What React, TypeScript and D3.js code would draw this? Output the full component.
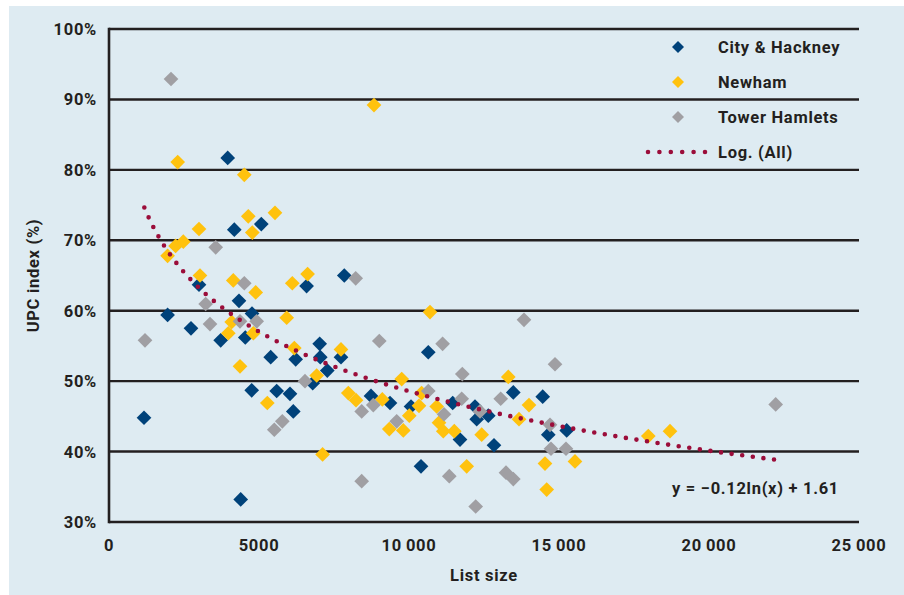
import React, { useEffect, useRef } from 'react';
import * as d3 from 'd3';

// list size / UPC index (%) per borough
const cityListSize = [3957, 5077, 4177, 3000, 6587, 7843, 4333, 1953, 2733, 4767, 3723, 4543, 5390, 6223, 7023, 7043, 7733, 7277, 6790, 4757, 5590, 6033, 6143, 1167, 4390, 10643, 13477, 14457, 8733, 9367, 10067, 11700, 11457, 12200, 12257, 12643, 12833, 14643, 15257, 10400];
const cityUpc = [81.7, 72.3, 71.5, 63.7, 63.5, 65.0, 61.4, 59.4, 57.5, 59.6, 55.8, 56.2, 53.4, 53.1, 55.3, 53.4, 53.4, 51.5, 49.7, 48.7, 48.6, 48.2, 45.7, 44.8, 33.2, 54.1, 48.4, 47.8, 47.9, 46.9, 46.4, 41.7, 46.9, 46.4, 44.6, 45.1, 40.9, 42.4, 43.0, 37.9];

const newhamListSize = [2290, 4510, 4643, 5533, 3000, 4777, 2477, 2220, 1953, 3033, 4143, 4890, 6110, 6620, 4090, 3977, 4810, 5923, 6177, 7733, 6923, 4367, 5277, 7977, 8233, 7120, 10700, 9757, 13310, 14000, 9110, 10420, 10333, 10010, 9343, 9810, 10923, 11000, 11143, 11510, 12423, 13667, 14533, 15533, 14590, 11923, 17977, 18700, 8833];
const newhamUpc = [81.1, 79.3, 73.4, 73.9, 71.6, 71.1, 69.8, 69.2, 67.8, 65.0, 64.3, 62.6, 63.9, 65.2, 58.4, 56.8, 56.8, 59.0, 54.7, 54.5, 50.8, 52.1, 46.9, 48.3, 47.3, 39.6, 59.8, 50.3, 50.6, 46.6, 47.4, 48.3, 46.5, 45.1, 43.2, 43.0, 46.4, 44.1, 42.9, 42.9, 42.4, 44.6, 38.3, 38.6, 34.6, 37.9, 42.2, 42.9, 89.2];

const towerListSize = [2067, 3557, 4510, 8223, 3223, 3367, 1200, 4367, 4923, 6533, 5777, 5510, 9010, 11120, 13833, 14867, 11777, 13057, 8423, 8810, 10643, 9590, 11167, 11757, 12367, 14700, 14733, 15233, 11343, 13233, 13477, 8423, 12223, 22223];
const towerUpc = [92.9, 69.0, 63.9, 64.6, 60.95, 58.1, 55.8, 58.5, 58.5, 50.0, 44.3, 43.1, 55.7, 55.3, 58.7, 52.4, 51.0, 47.5, 45.7, 46.6, 48.6, 44.3, 45.3, 47.5, 45.7, 43.8, 40.4, 40.4, 36.5, 37.0, 36.1, 35.8, 32.2, 46.7];

const seriesNames = ['City & Hackney', 'Newham', 'Tower Hamlets'];
const seriesColors = ['#00427a', '#ffc20e', '#a09fa3'];
const trendName = 'Log. (All)';
const trendColor = '#9b0d3a';

// log trendline: y = a ln(x) + b
const trendA = -0.1219;
const trendB = 1.6085;
const trendFrom = 1178;
const trendTo = 22167;
const equationLabel = 'y = \u22120.12ln(x) + 1.61';

const xTicks = [0, 5000, 10000, 15000, 20000, 25000];
const xTickLabels = ['0', '5000', '10\u2009000', '15\u2009000', '20\u2009000', '25\u2009000'];
const yTicks = [30, 40, 50, 60, 70, 80, 90, 100];
const yTickLabels = ['30%', '40%', '50%', '60%', '70%', '80%', '90%', '100%'];

const W = 904;
const H = 595;
const FONT = 'Roboto, "DejaVu Sans", sans-serif';
const INK = '#231f20';

const label = (sel) => sel.style('font', `bold 16.5px ${FONT}`).style('letter-spacing', '0.7px').attr('fill', INK);

const App = () => {
    const svgRef = useRef(null);
    useEffect(() => {
        const svg = d3.select(svgRef.current);
        svg.selectAll('*').remove();

        const left = 109, right = 859, top = 29, bottom = 522;
        const x = d3.scaleLinear().domain([0, 25000]).range([left, right]);
        const y = d3.scaleLinear().domain([30, 100]).range([bottom, top]);

        svg.append('rect').attr('x', 9).attr('y', 6).attr('width', W - 9).attr('height', H - 6).attr('fill', '#deebf2');

        // gridlines
        svg.append('g').selectAll('line').data(yTicks.filter((t) => t > 30)).enter().append('line')
            .attr('x1', left).attr('x2', right)
            .attr('y1', (d) => y(d)).attr('y2', (d) => y(d))
            .attr('stroke', INK).attr('stroke-width', 2.4);

        // axes
        svg.append('line').attr('x1', left).attr('x2', right).attr('y1', bottom).attr('y2', bottom)
            .attr('stroke', INK).attr('stroke-width', 2.6);
        svg.append('line').attr('x1', left).attr('x2', left).attr('y1', top - 1.2).attr('y2', bottom + 1.3)
            .attr('stroke', INK).attr('stroke-width', 2.6);

        svg.append('g').selectAll('text').data(yTicks).enter().append('text')
            .attr('x', 97).attr('y', (d) => y(d)).attr('dy', '0.36em')
            .attr('text-anchor', 'end')
            .call(label)
            .text((d, i) => yTickLabels[i]);

        svg.append('g').selectAll('text').data(xTicks).enter().append('text')
            .attr('x', (d) => x(d)).attr('y', 551)
            .attr('text-anchor', 'middle')
            .call(label)
            .text((d, i) => xTickLabels[i]);

        svg.append('text').attr('x', (left + right) / 2).attr('y', 581)
            .attr('text-anchor', 'middle')
            .call(label)
            .text('List size');

        svg.append('text').attr('transform', `translate(39, ${(top + bottom) / 2}) rotate(-90)`)
            .attr('text-anchor', 'middle')
            .call(label)
            .text('UPC index (%)');

        // points
        const diamond = d3.symbol().type(d3.symbolSquare).size(108);
        const series = [
            [cityListSize, cityUpc],
            [newhamListSize, newhamUpc],
            [towerListSize, towerUpc],
        ];
        series.forEach(([xs, ys], si) => {
            svg.append('g').selectAll('path').data(xs.map((v, i) => [v, ys[i]])).enter().append('path')
                .attr('d', diamond)
                .attr('transform', (d) => `translate(${x(d[0])}, ${y(d[1])}) rotate(45)`)
                .attr('fill', seriesColors[si]);
        });

        // trendline, dots spaced so one lands on each end
        const steps = d3.range(0, 201).map((i) => trendFrom * Math.pow(trendTo / trendFrom, i / 200));
        const line = d3.line()
            .x((d) => x(d))
            .y((d) => y(100 * (trendA * Math.log(d) + trendB)));
        const trend = svg.append('path').attr('d', line(steps))
            .attr('fill', 'none').attr('stroke', trendColor)
            .attr('stroke-width', 4.6).attr('stroke-linecap', 'round');
        const len = trend.node().getTotalLength();
        const gap = len / Math.round(len / 10.7);
        trend.attr('stroke-dasharray', `0 ${gap}`);

        svg.append('text').attr('x', 672).attr('y', 494)
            .call(label)
            .text(equationLabel);

        // legend
        const lg = svg.append('g');
        const rows = [47, 82, 117, 152];
        const small = d3.symbol().type(d3.symbolSquare).size(72);
        seriesNames.forEach((name, i) => {
            lg.append('path').attr('d', small)
                .attr('transform', `translate(678, ${rows[i]}) rotate(45)`)
                .attr('fill', seriesColors[i]);
            lg.append('text').attr('x', 718).attr('y', rows[i]).attr('dy', '0.36em')
                .call(label)
                .text(name);
        });
        lg.append('line').attr('x1', 648).attr('x2', 705).attr('y1', rows[3]).attr('y2', rows[3])
            .attr('stroke', trendColor).attr('stroke-width', 4.6)
            .attr('stroke-linecap', 'round').attr('stroke-dasharray', '0 11.4');
        lg.append('text').attr('x', 718).attr('y', rows[3]).attr('dy', '0.36em')
            .call(label)
            .text(trendName);
    }, []);

    return (
        <svg ref={svgRef} width={W} height={H} style={{ position: 'absolute', left: 0, top: 0 }}></svg>
    );
};

export default App;
